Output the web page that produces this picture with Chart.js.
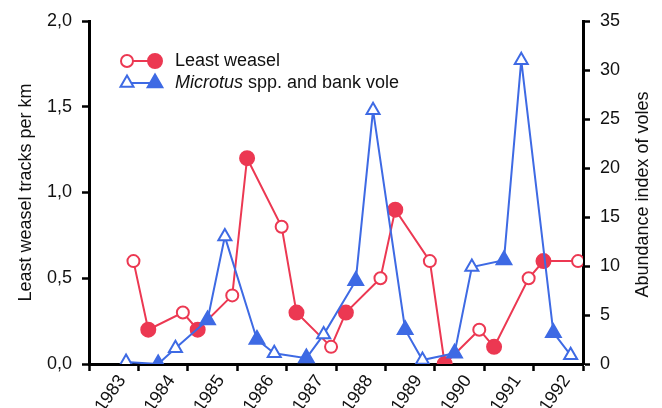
<!DOCTYPE html>
<html>
<head>
<meta charset="utf-8">
<script src="https://cdn.jsdelivr.net/npm/chart.js@4"></script>
<style>
  body { margin: 0; background: #fff; }
  #wrap { width: 662px; height: 408px; }
</style>
</head>
<body>
<div id="wrap"><canvas id="voleChart"></canvas></div>
<script>
// Data (x = time as decimal year)
const years = [1983, 1984, 1985, 1986, 1987, 1988, 1989, 1990, 1991, 1992];

const weaselTimes = [1983.9, 1984.2, 1984.9, 1985.2, 1985.9, 1986.2, 1986.9, 1987.2, 1987.9, 1988.2,
                     1988.9, 1989.2, 1989.9, 1990.2, 1990.9, 1991.2, 1991.9, 1992.2, 1992.9];
const weaselTracks = [0.6, 0.2, 0.3, 0.2, 0.4, 1.2, 0.8, 0.3, 0.1, 0.3,
                      0.5, 0.9, 0.6, 0.0, 0.2, 0.1, 0.5, 0.6, 0.6];

const voleTimes = [1983.75, 1984.4, 1984.75, 1985.4, 1985.75, 1986.4, 1986.75, 1987.4, 1987.75, 1988.4,
                   1988.75, 1989.4, 1989.75, 1990.4, 1990.75, 1991.4, 1991.75, 1992.4, 1992.75];
const voleIndex = [0.2, 0.0, 1.6, 4.5, 13.0, 2.5, 1.1, 0.6, 3.0, 8.5,
                   25.9, 3.5, 0.4, 1.1, 9.9, 10.6, 31.0, 3.2, 0.9];

const RED = 'rgb(236,56,82)';
const BLUE = 'rgb(62,106,228)';
const FONT = '"Liberation Sans", Arial, sans-serif';

Chart.defaults.font.family = FONT;
Chart.defaults.font.size = 18;
Chart.defaults.color = '#111';

const toPoints = (xs, ys) => xs.map((x, i) => ({ x: x, y: ys[i] }));
// open symbols at even indices, filled at odd ones
const isFilled = c => c.dataIndex % 2 === 1;

// legend drawn by hand (open + filled symbol joined by a line), plus the right title
const legendPlugin = {
  id: 'seasonLegend',
  afterDraw(chart) {
    const c = chart.ctx;
    const rows = [
      { color: RED, shape: 'circle', y: 61, parts: [['Least weasel', false]] },
      { color: BLUE, shape: 'triangle', y: 83, parts: [['Microtus', true], [' spp. and bank vole', false]] }
    ];
    c.save();
    rows.forEach(r => {
      c.strokeStyle = r.color;
      c.lineWidth = 2;
      c.beginPath();
      c.moveTo(127, r.y);
      c.lineTo(155, r.y);
      c.stroke();
      [[127, false], [155, true]].forEach(([x, filled]) => {
        c.beginPath();
        if (r.shape === 'circle') {
          c.arc(x, r.y, filled ? 7 : 6, 0, Math.PI * 2);
        } else {
          const rad = filled ? 8.5 : 7.5;
          for (let k = 0; k < 3; k++) {
            const a = -Math.PI / 2 + k * 2 * Math.PI / 3;
            const px = x + Math.cos(a) * rad, py = r.y + Math.sin(a) * rad;
            k ? c.lineTo(px, py) : c.moveTo(px, py);
          }
          c.closePath();
        }
        c.fillStyle = filled ? r.color : '#fff';
        c.fill();
        c.stroke();
      });
      let tx = 175;
      c.fillStyle = '#111';
      c.textBaseline = 'middle';
      r.parts.forEach(([txt, italic]) => {
        c.font = (italic ? 'italic ' : '') + '18px ' + FONT;
        c.fillText(txt, tx, r.y);
        tx += c.measureText(txt).width;
      });
    });

    // right axis title reads bottom-to-top like the left one
    const a = chart.scales.y1;
    c.translate(643, (a.top + a.bottom) / 2 + 2);
    c.rotate(-Math.PI / 2);
    c.font = '18px ' + FONT;
    c.textAlign = 'center';
    c.textBaseline = 'middle';
    c.fillStyle = '#111';
    c.fillText('Abundance index of voles', 0, 0);
    c.restore();
  }
};

new Chart(document.getElementById('voleChart'), {
  type: 'line',
  data: {
    datasets: [
      {
        label: 'Microtus spp. and bank vole',
        data: toPoints(voleTimes, voleIndex),
        yAxisID: 'y1',
        borderColor: BLUE,
        borderWidth: 2,
        pointStyle: 'triangle',
        pointRadius: c => isFilled(c) ? 8.5 : 7.5,
        pointBorderWidth: 2,
        pointBorderColor: BLUE,
        pointBackgroundColor: c => isFilled(c) ? BLUE : '#fff'
      },
      {
        label: 'Least weasel',
        data: toPoints(weaselTimes, weaselTracks),
        yAxisID: 'y',
        borderColor: RED,
        borderWidth: 2,
        pointStyle: 'circle',
        pointRadius: c => isFilled(c) ? 7 : 6,
        pointBorderWidth: 2,
        pointBorderColor: RED,
        pointBackgroundColor: c => isFilled(c) ? RED : '#fff'
      }
    ]
  },
  options: {
    responsive: true,
    maintainAspectRatio: false,
    animation: false,
    layout: { padding: { top: 21, left: 0, right: 0, bottom: 0 } },
    plugins: { legend: { display: false }, tooltip: { enabled: false } },
    scales: {
      x: {
        type: 'linear',
        min: 1983,
        max: 1993,
        afterFit: s => { s.height = 44; },
        afterBuildTicks: s => {
          const marks = years.concat([1993]).map(v => ({ value: v }));
          const labels = years.map(v => ({ value: v + 0.67 }));
          s.ticks = marks.concat(labels).sort((a, b) => a.value - b.value);
        },
        border: { color: '#000', width: 3 },
        grid: {
          drawOnChartArea: false,
          tickLength: 7,
          tickWidth: 2.5,
          tickColor: c => Number.isInteger(c.tick.value) ? '#000' : 'rgba(0,0,0,0)'
        },
        ticks: {
          autoSkip: false,
          minRotation: 55,
          maxRotation: 55,
          padding: 0,
          font: { size: 18 },
          callback: v => Number.isInteger(v) ? '' : String(Math.floor(v))
        }
      },
      y: {
        position: 'left',
        min: 0,
        max: 2,
        afterFit: s => { s.width = 89; },
        border: { color: '#000', width: 3 },
        grid: { drawOnChartArea: false, tickLength: 7, tickWidth: 2.5, tickColor: '#000' },
        ticks: { stepSize: 0.5, padding: 10, callback: v => v.toFixed(1).replace('.', ',') },
        title: { display: true, text: 'Least weasel tracks per km', padding: { top: 15 } }
      },
      y1: {
        position: 'right',
        min: 0,
        max: 35,
        afterFit: s => { s.width = 79; },
        border: { color: '#000', width: 3 },
        grid: { drawOnChartArea: false, tickLength: 7, tickWidth: 2.5, tickColor: '#000' },
        ticks: { stepSize: 5, padding: 10 }
      }
    }
  },
  plugins: [legendPlugin]
});
</script>
</body>
</html>
